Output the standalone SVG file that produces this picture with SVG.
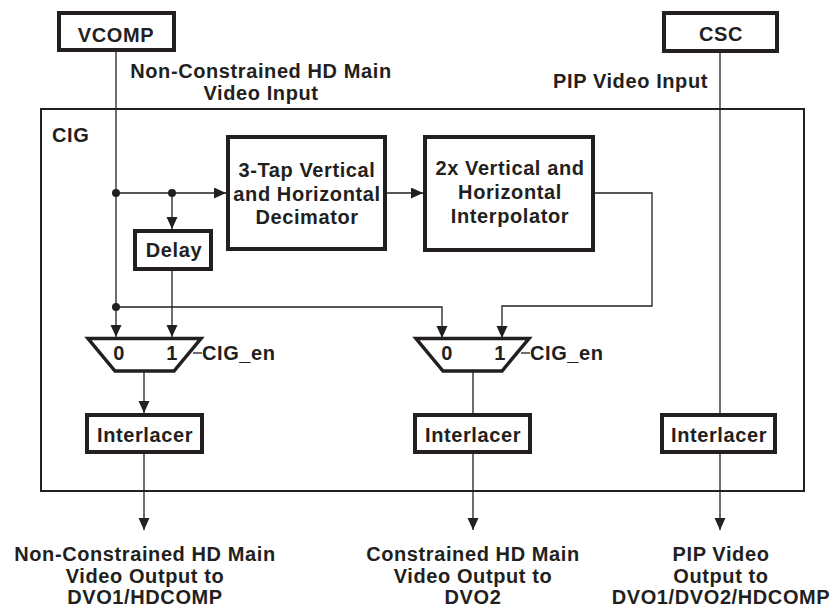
<svg xmlns="http://www.w3.org/2000/svg" width="833" height="609" viewBox="0 0 833 609">
  <style>
    .box { fill: #ffffff; stroke: #231f20; stroke-width: 4; }
    .frame { fill: none; stroke: #231f20; stroke-width: 2; }
    .mux { fill: #ffffff; stroke: #231f20; stroke-width: 3.5; stroke-linejoin: miter; }
    .wire { fill: none; stroke: #231f20; stroke-width: 1.3; }
    .arrow { marker-end: url(#head); }
    .dot { fill: #231f20; }
    text { font-family: "Liberation Sans", Arial, Helvetica, sans-serif; font-weight: bold; font-size: 20px; letter-spacing: 0.6px; fill: #231f20; }
    .c { text-anchor: middle; }
    .e { text-anchor: end; }
  </style>
  <defs>
    <marker id="head" markerUnits="userSpaceOnUse" markerWidth="13" markerHeight="12" refX="12" refY="5.5" orient="auto">
      <path d="M0,0 L12,5.5 L0,11 Z" fill="#231f20"/>
    </marker>
  </defs>

  <rect x="0" y="0" width="833" height="609" fill="#ffffff"/>

  <!-- CIG enclosure -->
  <g id="cig">
    <rect class="frame" x="41" y="109" width="763" height="382"/>
    <text x="52" y="142">CIG</text>
  </g>

  <!-- connectors -->
  <g id="connectors">
    <!-- main input from VCOMP -->
    <path class="wire arrow" d="M116,52 V337"/>
    <path class="wire arrow" d="M116,193 H226"/>
    <path class="wire arrow" d="M172,193 V229"/>
    <path class="wire arrow" d="M172,271 V337"/>
    <path class="wire arrow" d="M116,307 H442 V338"/>
    <!-- decimator to interpolator -->
    <path class="wire arrow" d="M387,193 H423"/>
    <!-- interpolator to mux 2 input 1 -->
    <path class="wire arrow" d="M595,193 H652 V306 H502 V338"/>
    <!-- mux outputs -->
    <path class="wire arrow" d="M144,372 V413"/>
    <path class="wire" d="M473,372 V413"/>
    <!-- PIP input -->
    <path class="wire" d="M720,53 V413"/>
    <!-- outputs -->
    <path class="wire arrow" d="M144,454 V530"/>
    <path class="wire arrow" d="M473,454 V530"/>
    <path class="wire arrow" d="M720,454 V530"/>
    <!-- select ticks -->
    <path class="wire" d="M193,353 H202"/>
    <path class="wire" d="M521,353 H530"/>
    <!-- junctions -->
    <circle class="dot" cx="116" cy="193" r="4"/>
    <circle class="dot" cx="172" cy="193" r="4"/>
    <circle class="dot" cx="116" cy="307" r="4"/>
  </g>

  <g id="vcomp">
    <rect class="box" x="59" y="13" width="115" height="37"/>
    <text class="c" x="116" y="42">VCOMP</text>
  </g>
  <g id="input-label">
    <text class="c" x="261" y="78">Non-Constrained HD Main</text>
    <text class="c" x="261" y="100">Video Input</text>
  </g>

  <g id="csc">
    <rect class="box" x="664" y="13" width="113" height="38"/>
    <text class="c" x="721" y="41">CSC</text>
  </g>
  <g id="pip-input-label">
    <text class="e" x="708" y="88">PIP Video Input</text>
  </g>

  <g id="decimator">
    <rect class="box" x="228" y="137" width="157" height="112"/>
    <text class="c" x="307" y="177">3-Tap Vertical</text>
    <text class="c" x="307" y="200.5">and Horizontal</text>
    <text class="c" x="307" y="224">Decimator</text>
  </g>

  <g id="interpolator">
    <rect class="box" x="425" y="137" width="168" height="113"/>
    <text class="c" x="510" y="175">2x Vertical and</text>
    <text class="c" x="510" y="199">Horizontal</text>
    <text class="c" x="510" y="223">Interpolator</text>
  </g>

  <g id="delay">
    <rect class="box" x="135" y="231" width="76" height="38"/>
    <text class="c" x="174" y="257">Delay</text>
  </g>

  <g id="mux1">
    <polygon class="mux" points="88,338.5 201,338.5 174,371 115,371"/>
    <text class="c" x="119" y="360">0</text>
    <text class="c" x="172" y="360">1</text>
    <text x="202" y="360">CIG_en</text>
  </g>

  <g id="mux2">
    <polygon class="mux" points="416,338.5 529,338.5 502,371 443,371"/>
    <text class="c" x="447" y="360">0</text>
    <text class="c" x="500" y="360">1</text>
    <text x="530" y="360">CIG_en</text>
  </g>

  <g id="interlacer1">
    <rect class="box" x="87" y="415" width="115" height="37"/>
    <text class="c" x="145" y="441.5">Interlacer</text>
  </g>
  <g id="interlacer2">
    <rect class="box" x="415" y="415" width="115" height="37"/>
    <text class="c" x="473" y="441.5">Interlacer</text>
  </g>
  <g id="interlacer3">
    <rect class="box" x="662" y="415" width="113" height="37"/>
    <text class="c" x="719" y="441.5">Interlacer</text>
  </g>

  <g id="output1-label">
    <text class="c" x="145" y="561">Non-Constrained HD Main</text>
    <text class="c" x="145" y="583">Video Output to</text>
    <text class="c" x="145" y="604">DVO1/HDCOMP</text>
  </g>
  <g id="output2-label">
    <text class="c" x="473" y="561">Constrained HD Main</text>
    <text class="c" x="473" y="583">Video Output to</text>
    <text class="c" x="473" y="604">DVO2</text>
  </g>
  <g id="output3-label">
    <text class="c" x="721" y="561">PIP Video</text>
    <text class="c" x="721" y="583">Output to</text>
    <text class="c" x="721" y="604">DVO1/DVO2/HDCOMP</text>
  </g>
</svg>
